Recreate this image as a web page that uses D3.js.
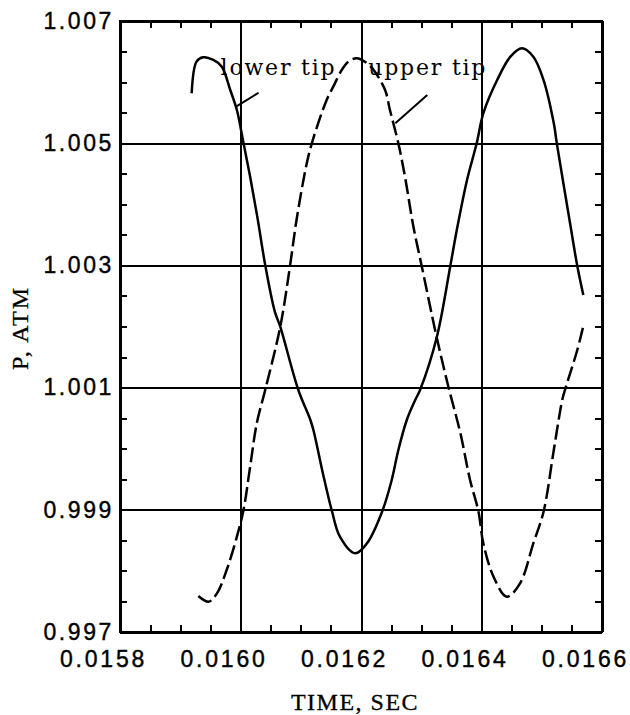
<!DOCTYPE html>
<html>
<head>
<meta charset="utf-8">
<script src="https://cdn.jsdelivr.net/npm/d3@7"></script>
<style>
  html, body { margin: 0; padding: 0; background: #fff; }
  svg { display: block; }
</style>
</head>
<body>
<svg id="chart" width="630" height="715"></svg>
<script>
// ---- data ----
const lowerTipTime = [0.015919, 0.015927, 0.015938, 0.015955, 0.015969, 0.015983, 0.015994, 0.016004, 0.016016, 0.016028,
  0.016041, 0.016057, 0.016066, 0.016096, 0.016116, 0.016121, 0.016138, 0.016152, 0.016165, 0.016190,
  0.016210, 0.016235, 0.016251, 0.016262, 0.016276, 0.016290, 0.016298, 0.016326, 0.016348, 0.016359,
  0.016376, 0.016392, 0.016403, 0.016426, 0.016448, 0.016467, 0.016486, 0.016503, 0.016520, 0.016525,
  0.016547, 0.016559, 0.016569];
const lowerTipP = [1.005817, 1.006334, 1.006406, 1.006362, 1.006252, 1.005871, 1.005543, 1.005052, 1.004452, 1.003790,
  1.003007, 1.002242, 1.001997, 1.000961, 1.000470, 1.000306, 0.999542, 0.998969, 0.998560, 0.998288,
  0.998452, 0.998969, 0.999488, 0.999979, 1.000470, 1.000797, 1.000961, 1.001833, 1.002979, 1.003579,
  1.004398, 1.004998, 1.005489, 1.006034, 1.006416, 1.006553, 1.006416, 1.006034, 1.005326, 1.004998,
  1.003689, 1.002990, 1.002516];
const upperTipTime = [0.015930, 0.015947, 0.015961, 0.015977, 0.015994, 0.016005, 0.016016, 0.016027, 0.016041, 0.016066,
  0.016082, 0.016093, 0.016110, 0.016120, 0.016143, 0.016154, 0.016168, 0.016179, 0.016193, 0.016210,
  0.016221, 0.016240, 0.016248, 0.016262, 0.016273, 0.016287, 0.016301, 0.016326, 0.016345, 0.016365,
  0.016381, 0.016395, 0.016403, 0.016420, 0.016442, 0.016464, 0.016486, 0.016503, 0.016520, 0.016534,
  0.016539, 0.016559, 0.016569];
const upperTipP = [0.997589, 0.997496, 0.997633, 0.998015, 0.998560, 0.998997, 0.999705, 1.000416, 1.000961, 1.001997,
  1.002979, 1.003743, 1.004671, 1.005052, 1.005707, 1.005925, 1.006198, 1.006334, 1.006390, 1.006308,
  1.006198, 1.005871, 1.005543, 1.004998, 1.004452, 1.003633, 1.002979, 1.001807, 1.001015, 1.000252,
  0.999488, 0.998969, 0.998452, 0.997905, 0.997578, 0.997797, 0.998452, 0.998969, 0.999979, 1.000797,
  1.000977, 1.001615, 1.002008];
const xTickValues = [0.0158, 0.0160, 0.0162, 0.0164, 0.0166];
const yTickValues = [0.997, 0.999, 1.001, 1.003, 1.005, 1.007];
const xTitle = "TIME, SEC";
const yTitle = "P, ATM";
const seriesLabels = ["lower tip", "upper tip"];

// ---- layout ----
const L = 120, R = 602, T = 21, B = 632;
const svg = d3.select("#chart");
const x = d3.scaleLinear().domain([0.0158, 0.0166]).range([L, R]);
const y = d3.scaleLinear().domain([0.997, 1.007]).range([B, T]);

const minorX = x.ticks(16);
const minorY = y.ticks(20);
const TK = 7;

function styleAxis(g) {
  g.select(".domain").remove();
  g.selectAll(".tick line").attr("stroke", "#000").attr("stroke-width", 2)
    .attr("shape-rendering", "crispEdges");
}

// grid lines at major values
svg.append("g").attr("transform", `translate(0,${B})`)
  .call(d3.axisBottom(x).tickValues(xTickValues).tickSize(-(B - T)).tickFormat(""))
  .call(styleAxis);
svg.append("g").attr("transform", `translate(${L},0)`)
  .call(d3.axisLeft(y).tickValues(yTickValues).tickSize(-(R - L)).tickFormat(""))
  .call(styleAxis);

// minor inward ticks on four sides
svg.append("g").attr("transform", `translate(0,${B})`)
  .call(d3.axisBottom(x).tickValues(minorX).tickSize(-TK).tickFormat("")).call(styleAxis);
svg.append("g").attr("transform", `translate(0,${T})`)
  .call(d3.axisTop(x).tickValues(minorX).tickSize(-TK).tickFormat("")).call(styleAxis);
svg.append("g").attr("transform", `translate(${L},0)`)
  .call(d3.axisLeft(y).tickValues(minorY).tickSize(-TK).tickFormat("")).call(styleAxis);
svg.append("g").attr("transform", `translate(${R},0)`)
  .call(d3.axisRight(y).tickValues(minorY).tickSize(-TK).tickFormat("")).call(styleAxis);

// frame
svg.append("rect").attr("x", L).attr("y", T).attr("width", R - L).attr("height", B - T)
  .attr("fill", "none").attr("stroke", "#000").attr("stroke-width", 2.2)
  .attr("shape-rendering", "crispEdges");

// tick labels
const tickFont = "'Liberation Sans', Arial, sans-serif";
const xl = svg.append("g").attr("transform", `translate(0,${B})`)
  .call(d3.axisBottom(x).tickValues(xTickValues).tickSize(0).tickPadding(19).tickFormat(d3.format(".4f")));
xl.select(".domain").remove();
xl.selectAll("text").attr("font-family", tickFont).attr("font-size", 23)
  .attr("letter-spacing", "2.8px").attr("dx", -17).attr("fill", "#000")
  .attr("stroke", "#000").attr("stroke-width", 0.4);

const yl = svg.append("g").attr("transform", `translate(${L},0)`)
  .call(d3.axisLeft(y).tickValues(yTickValues).tickSize(0).tickPadding(9).tickFormat(d3.format(".3f")));
yl.select(".domain").remove();
yl.selectAll("text").attr("font-family", tickFont).attr("font-size", 23)
  .attr("letter-spacing", "2.6px").attr("dx", 3).attr("fill", "#000")
  .attr("stroke", "#000").attr("stroke-width", 0.4);

// axis titles
const titleFont = "'Liberation Serif', 'Times New Roman', serif";
svg.append("text").attr("x", 355).attr("y", 710).attr("text-anchor", "middle")
  .attr("font-family", titleFont).attr("font-size", 24).attr("letter-spacing", "1.5px")
  .attr("stroke", "#000").attr("stroke-width", 0.3)
  .text(xTitle);
svg.append("text").attr("transform", "translate(28,328) rotate(-90)").attr("text-anchor", "middle")
  .attr("font-family", titleFont).attr("font-size", 24).attr("letter-spacing", "2px")
  .attr("stroke", "#000").attr("stroke-width", 0.3)
  .text(yTitle);

// curves
const line = d3.line().x(d => x(d[0])).y(d => y(d[1])).curve(d3.curveCatmullRom.alpha(0.5));
const lowerData = lowerTipTime.map((t, i) => [t, lowerTipP[i]]);
const upperData = upperTipTime.map((t, i) => [t, upperTipP[i]]);

svg.append("path").datum(lowerData).attr("d", line)
  .attr("fill", "none").attr("stroke", "#000").attr("stroke-width", 2.5);
svg.append("path").datum(upperData).attr("d", line)
  .attr("fill", "none").attr("stroke", "#000").attr("stroke-width", 2.5)
  .attr("stroke-dasharray", "15,5");

// series labels with leader lines
const labFont = "'DejaVu Serif', serif";
svg.append("text").attr("x", x(0.015967)).attr("y", y(1.006120)).attr("font-family", labFont)
  .attr("font-size", 22).attr("letter-spacing", "1.8px").text(seriesLabels[0]);
svg.append("text").attr("x", x(0.016212)).attr("y", y(1.006120)).attr("font-family", labFont)
  .attr("font-size", 22).attr("letter-spacing", "1.8px").text(seriesLabels[1]);
svg.append("line").attr("x1", x(0.016030)).attr("y1", y(1.005826)).attr("x2", x(0.015994)).attr("y2", y(1.005608))
  .attr("stroke", "#000").attr("stroke-width", 2);
svg.append("line").attr("x1", x(0.016310)).attr("y1", y(1.005789)).attr("x2", x(0.016257)).attr("y2", y(1.005325))
  .attr("stroke", "#000").attr("stroke-width", 2);
</script>
</body>
</html>
